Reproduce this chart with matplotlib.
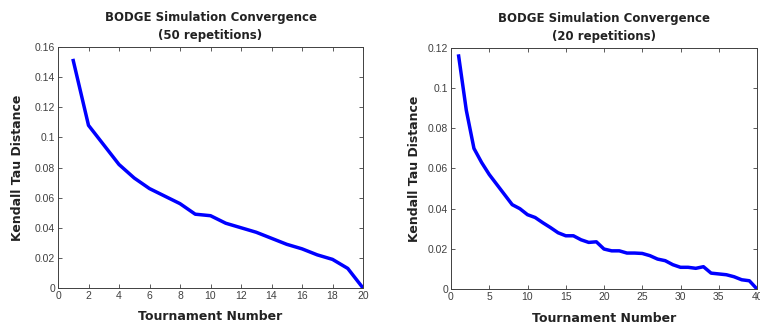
import numpy as np
import matplotlib
matplotlib.use("Agg")
import matplotlib.pyplot as plt

# 50 repetitions, tournaments 1..20
tourn_50 = np.arange(1, 21)
tau_50 = [0.151, 0.108, 0.095, 0.082, 0.073, 0.066, 0.061, 0.056, 0.049, 0.048,
          0.043, 0.040, 0.037, 0.033, 0.029, 0.026, 0.022, 0.019, 0.013, 0.000]

# 20 repetitions, tournaments 1..40
tourn_20 = np.arange(1, 41)
tau_20 = [0.116, 0.089, 0.070, 0.063, 0.057, 0.052, 0.047, 0.042, 0.040, 0.037,
          0.0356, 0.033, 0.0306, 0.028, 0.0265, 0.0265, 0.0245, 0.0232, 0.0235, 0.0199,
          0.019, 0.019, 0.0179, 0.0179, 0.0177, 0.0166, 0.0149, 0.0141, 0.0121, 0.0108,
          0.0108, 0.0103, 0.0111, 0.0079, 0.0075, 0.0071, 0.0061, 0.0046, 0.0041, 0.0]

titles = ["BODGE Simulation Convergence\n(50 repetitions)",
          "BODGE Simulation Convergence\n(20 repetitions)"]

W, H = 760, 331
fig = plt.figure(figsize=(W / 100, H / 100), dpi=100)

# axes boxes in pixels: left, top, right, bottom
boxes = [(58, 47, 363, 288), (451, 48, 757, 289)]
panels = [
    (tourn_50, tau_50, (0, 20), np.arange(0, 21, 2), (0, 0.16), np.arange(0, 0.161, 0.02)),
    (tourn_20, tau_20, (0, 40), np.arange(0, 41, 5), (0, 0.12), np.arange(0, 0.121, 0.02)),
]
ylabel_pads = [8, 5]

for (l, t, r, b), (x, y, xl, xt, yl, yt), title, ypad in zip(boxes, panels, titles, ylabel_pads):
    ax = fig.add_axes([l / W, 1 - b / H, (r - l) / W, (b - t) / H])
    ax.plot(x, y, color="#0000ff", lw=2.5, solid_joinstyle="round")
    ax.set_xlim(*xl)
    ax.set_ylim(*yl)
    ax.set_xticks(xt)
    ax.set_yticks(yt)
    ax.set_yticklabels(["0" if v == 0 else f"{v:g}" for v in yt])
    ax.tick_params(direction="in", top=True, right=True, length=3, width=0.6,
                   labelsize=7.5, colors="#404040", labelcolor="#404040", pad=2)
    for lab in ax.get_xticklabels() + ax.get_yticklabels():
        lab.set_family("Liberation Sans")
    for s in ax.spines.values():
        s.set_linewidth(0.7)
        s.set_color("#404040")
    ax.set_title(title, fontsize=8.5, fontweight="bold", color="#222222", pad=6,
                 linespacing=1.5)
    ax.set_xlabel("Tournament Number", fontsize=9, fontweight="bold", color="#222222",
                  labelpad=7)
    ax.set_ylabel("Kendall Tau Distance", fontsize=9, fontweight="bold", color="#222222",
                  labelpad=ypad)

fig.savefig("out.png", dpi=100)
